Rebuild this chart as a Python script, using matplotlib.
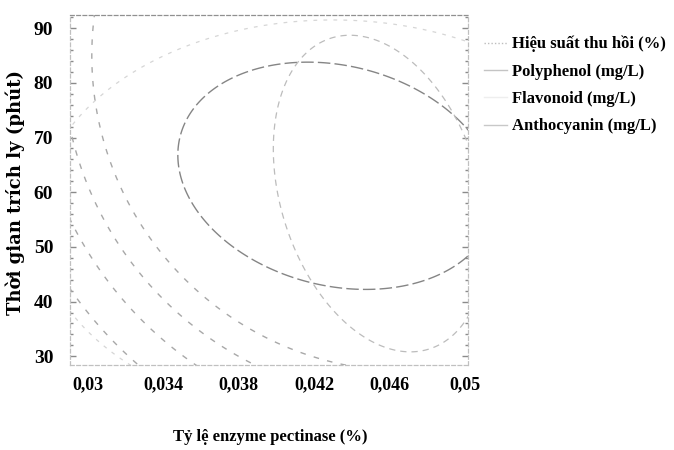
import numpy as np
import matplotlib
matplotlib.use("Agg")
import matplotlib.pyplot as plt
from matplotlib.lines import Line2D
from matplotlib.ticker import MultipleLocator

# ===== du lieu: he so mo hinh bac hai (bien ma hoa) =====
# thu tu: b0, b1, b2, b12, b11, b22
hieu_suat_coef = [85.29, 3.696, 2.368, -2.4, -5.4, -8.0]
polyphenol_coef = [615.08, 127.28, 20.51, -38.5, -116.0, -40.0]
flavonoid_coef = [158.36, 7.2, -6.667, 0.0, -12.0, -20.0]
anthocyanin_coef = [6.982, 1.4, 1.268, 0.0, -1.0, -0.761]

# muc duong dong muc cua tung dap ung
hieu_suat_levels = [82.29]
polyphenol_levels = [615.73]
flavonoid_levels = [130.4]
anthocyanin_levels = [3.24, 4.02, 4.63, 5.18]

series_names = ["Hiệu suất thu hồi (%)", "Polyphenol (mg/L)",
                "Flavonoid (mg/L)", "Anthocyanin (mg/L)"]

x_ticks = [0.03, 0.034, 0.038, 0.042, 0.046, 0.05]
x_tick_labels = ["0,03", "0,034", "0,038", "0,042", "0,046", "0,05"]
y_ticks = [30, 40, 50, 60, 70, 80, 90]

# tam va buoc cua bien ma hoa
x_center, x_step = 0.04, 0.01
y_center, y_step = 60, 30


def model(coef, X, Y):
    u = (X - x_center) / x_step
    v = (Y - y_center) / y_step
    b0, b1, b2, b12, b11, b22 = coef
    return b0 + b1 * u + b2 * v + b12 * u * v + b11 * u ** 2 + b22 * v ** 2


serif = ["Liberation Serif", "DejaVu Serif"]

fig = plt.figure(figsize=(6.74, 4.5), dpi=100)
ax = fig.add_axes([70 / 674, 1 - 365 / 450, 398 / 674, 350 / 450])

xs = np.linspace(0.029, 0.0505, 400)
ys = np.linspace(28, 93, 400)
X, Y = np.meshgrid(xs, ys)

styles = [
    dict(colors="#858585", linewidths=1.0, linestyles=[(0, (9, 3))]),
    dict(colors="#bcbcbc", linewidths=0.9, linestyles=[(0, (5, 4))]),
    dict(colors="#d6d6d6", linewidths=0.9, linestyles=[(0, (3, 5))]),
    dict(colors="#a8a8a8", linewidths=1.0, linestyles=[(0, (4, 6))]),
]
coefs = [hieu_suat_coef, polyphenol_coef, flavonoid_coef, anthocyanin_coef]
levels = [hieu_suat_levels, polyphenol_levels, flavonoid_levels, anthocyanin_levels]

for coef, lv, st in zip(coefs, levels, styles):
    ax.contour(X, Y, model(coef, X, Y), levels=lv, **st)

ax.set_xlim(0.02905, 0.05016)
ax.set_ylim(28.4, 92.4)

ax.set_xticks(x_ticks)
ax.set_xticklabels(x_tick_labels)
ax.set_yticks(y_ticks)
ax.yaxis.set_minor_locator(MultipleLocator(2))
ax.tick_params(axis="x", length=0, pad=8)
ax.tick_params(axis="y", which="both", direction="in", left=True, right=True,
               color="#8a8a8a", pad=12)
ax.tick_params(axis="y", which="major", length=4, width=1.0)
ax.tick_params(axis="y", which="minor", length=2.5, width=1.0)

for lab in ax.get_xticklabels():
    lab.set_family(serif)
    lab.set_fontweight("bold")
    lab.set_fontsize(13)
for lab in ax.get_yticklabels():
    lab.set_family(serif)
    lab.set_fontweight("bold")
    lab.set_fontsize(14)

for name, sp in ax.spines.items():
    sp.set_color("#c0c0c0")
    sp.set_linewidth(0.9)
    sp.set_linestyle((0, (3, 2)))
ax.spines["top"].set_color("#909090")

ax.set_xlabel("Tỷ lệ enzyme pectinase (%)", family=serif, fontweight="bold",
              fontsize=12, va="center")
ax.xaxis.set_label_coords(0.5025, -0.206)
ax.set_ylabel("Thời gian trích ly (phút)", family=["DejaVu Serif"],
              fontweight="bold", fontsize=13, va="center")
ax.yaxis.set_label_coords(-0.138, 0.494)

handles = [
    Line2D([], [], color="#bdbdbd", lw=1.0, ls=(0, (1, 1.5))),
    Line2D([], [], color="#c4c4c4", lw=1.0, ls="solid"),
    Line2D([], [], color="#eeeeee", lw=1.0, ls="solid"),
    Line2D([], [], color="#c8c8c8", lw=1.0, ls="solid"),
]
fig.legend(handles, series_names, loc="upper left",
           bbox_to_anchor=(484 / 674, 1 - 36 / 450), frameon=False,
           handlelength=1.4, handletextpad=0.25, labelspacing=0.68,
           borderaxespad=0, borderpad=0,
           prop=dict(family=serif, weight="bold", size=12))

fig.savefig("out.png", dpi=100)
